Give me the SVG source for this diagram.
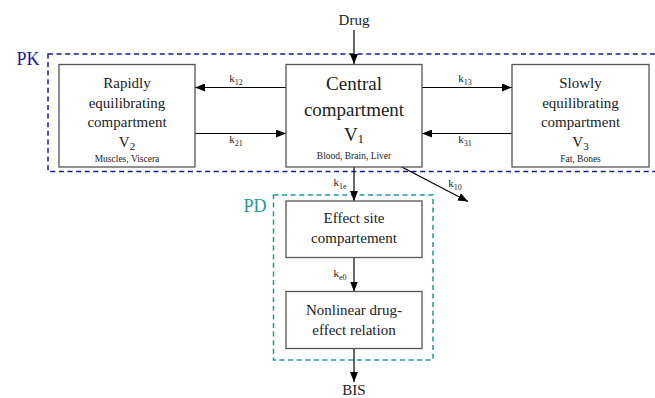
<svg xmlns="http://www.w3.org/2000/svg" width="655" height="398" viewBox="0 0 655 398" font-family="'Liberation Serif', 'DejaVu Serif', 'Noto Serif', 'Times New Roman', serif">
<style>
text{font-family:"Liberation Serif","DejaVu Serif","Noto Serif","Times New Roman",serif;fill:#222;text-anchor:middle}
.box{fill:#fff;stroke:#555;stroke-width:1.3}
.t{font-size:15px}
.big{font-size:19px}
.s{font-size:9.5px}
.k{font-size:11px}
.sub{font-size:8px}
.line{stroke:#000;stroke-width:1.2;fill:none;marker-end:url(#ah)}
</style>
<defs>
<marker id="ah" viewBox="0 0 10 8" refX="10" refY="4" markerWidth="10" markerHeight="8" markerUnits="userSpaceOnUse" orient="auto">
<path d="M0,0 L10,4 L0,8 z" fill="#000"/>
</marker>
</defs>
<g id="pk-region">
<rect x="48" y="54" width="620" height="117.5" fill="none" stroke="#1a1a96" stroke-width="1.5" stroke-dasharray="5 3.6"/>
<text x="28" y="65" style="font-size:18px;fill:#1a1a96">PK</text>
</g>
<g id="pd-region">
<rect x="273.5" y="195" width="159.5" height="165" fill="none" stroke="#1e9a96" stroke-width="1.5" stroke-dasharray="5 3.6"/>
<text x="255" y="212" style="font-size:18px;fill:#1e9a96">PD</text>
</g>
<g id="connectors">
<line class="line" x1="354" y1="30" x2="354" y2="64"/>
<line class="line" x1="286" y1="87.5" x2="195" y2="87.5"/>
<line class="line" x1="195" y1="133.5" x2="286" y2="133.5"/>
<line class="line" x1="422" y1="87.5" x2="512" y2="87.5"/>
<line class="line" x1="512" y1="133.5" x2="422" y2="133.5"/>
<line class="line" x1="354" y1="167" x2="354" y2="201"/>
<line class="line" x1="398" y1="165" x2="468" y2="201.5"/>
<line class="line" x1="354" y1="257.5" x2="354" y2="291.5"/>
<line class="line" x1="354" y1="348.5" x2="354" y2="382"/>
<text class="k" x="236" y="82">k<tspan class="sub" dy="2.5">12</tspan></text>
<text class="k" x="236" y="143">k<tspan class="sub" dy="2.5">21</tspan></text>
<text class="k" x="465" y="82">k<tspan class="sub" dy="2.5">13</tspan></text>
<text class="k" x="465" y="143">k<tspan class="sub" dy="2.5">31</tspan></text>
<text class="k" x="340" y="186">k<tspan class="sub" dy="2.5">1e</tspan></text>
<text class="k" x="340" y="277">k<tspan class="sub" dy="2.5">e0</tspan></text>
<text class="k" x="455" y="187">k<tspan class="sub" dy="2.5">10</tspan></text>
</g>
<g id="drug"><text class="t" x="354" y="25">Drug</text></g>
<g id="bis"><text class="t" x="354" y="395">BIS</text></g>
<g id="v2">
<rect class="box" x="59" y="64.5" width="136" height="102.5"/>
<text class="t" x="127" y="88">Rapidly</text>
<text class="t" x="127" y="107.5">equilibrating</text>
<text class="t" x="127" y="127">compartment</text>
<text class="t" x="127" y="147">V<tspan style="font-size:11px" dy="3">2</tspan></text>
<text class="s" x="127" y="162">Muscles, Viscera</text>
</g>
<g id="v1">
<rect class="box" x="286" y="64.5" width="136" height="102.5"/>
<text class="big" x="354" y="90">Central</text>
<text class="big" x="354" y="116">compartment</text>
<text class="big" x="354" y="141">V<tspan style="font-size:13px" dy="2">1</tspan></text>
<text class="s" x="354" y="159">Blood, Brain, Liver</text>
</g>
<g id="v3">
<rect class="box" x="512" y="64.5" width="137" height="102.5"/>
<text class="t" x="580.5" y="88">Slowly</text>
<text class="t" x="580.5" y="107.5">equilibrating</text>
<text class="t" x="580.5" y="127">compartment</text>
<text class="t" x="580.5" y="147">V<tspan style="font-size:11px" dy="3">3</tspan></text>
<text class="s" x="580.5" y="162">Fat, Bones</text>
</g>
<g id="effect-site">
<rect class="box" x="286" y="201" width="136" height="56.5"/>
<text class="t" x="354" y="223">Effect site</text>
<text class="t" x="354" y="243">compartement</text>
</g>
<g id="nonlinear">
<rect class="box" x="286" y="291.5" width="136" height="57"/>
<text class="t" x="354" y="315">Nonlinear drug-</text>
<text class="t" x="354" y="335">effect relation</text>
</g>
</svg>
